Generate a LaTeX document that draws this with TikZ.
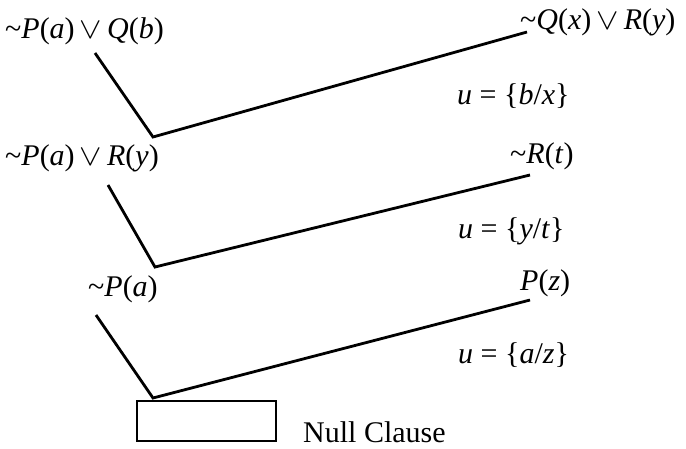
\documentclass[tikz,border=0pt]{standalone}
\usepackage{graphicx}
\usepackage{fontspec}
\setmainfont{Liberation Serif}
\newcommand{\tl}{\textasciitilde}
\newcommand{\orr}{\,\scalebox{1.35}[1.2]{$\vee$}\,}
\begin{document}
\begin{tikzpicture}[x=1pt,y=-1pt,
  lbl/.style={anchor=base west,inner sep=0pt,font=\fontsize{30}{34}\selectfont},
  edge/.style={line width=2.8pt,line join=miter},
  box/.style={draw,line width=2pt,inner sep=0pt}]
\useasboundingbox (0,0) rectangle (686,448);
\node[lbl] (c1) at (5,38) {\tl\textit{P}(\textit{a})\orr\textit{Q}(\textit{b})};
\node[lbl] (c2) at (520,29) {\tl\textit{Q}(\textit{x})\orr\textit{R}(\textit{y})};
\node[lbl] (u1) at (457,104) {\textit{u} = \{\textit{b}/\textit{x}\}};
\node[lbl] (c3) at (5,165) {\tl\textit{P}(\textit{a})\orr\textit{R}(\textit{y})};
\node[lbl] (c4) at (510,163) {\tl\textit{R}(\textit{t})};
\node[lbl] (u2) at (458,238) {\textit{u} = \{\textit{y}/\textit{t}\}};
\node[lbl] (c5) at (88,296) {\tl\textit{P}(\textit{a})};
\node[lbl] (c6) at (520,290) {\textit{P}(\textit{z})};
\node[lbl] (u3) at (458,363) {\textit{u} = \{\textit{a}/\textit{z}\}};
\node[box,minimum width=139pt,minimum height=40pt,anchor=north west] (nul) at (136,400) {};
\node[lbl] (nc) at (303,442) {Null Clause};
\coordinate (a1) at (95,53);
\coordinate (j1) at (153,137);
\coordinate (b1) at (527,32);
\coordinate (a2) at (108,185);
\coordinate (j2) at (155,267);
\coordinate (b2) at (530,175);
\coordinate (a3) at (96,315);
\coordinate (j3) at (153,398);
\coordinate (b3) at (530,300);
\draw[edge] (a1) -- (j1) -- (b1);
\draw[edge] (a2) -- (j2) -- (b2);
\draw[edge] (a3) -- (j3) -- (b3);
\end{tikzpicture}
\end{document}
